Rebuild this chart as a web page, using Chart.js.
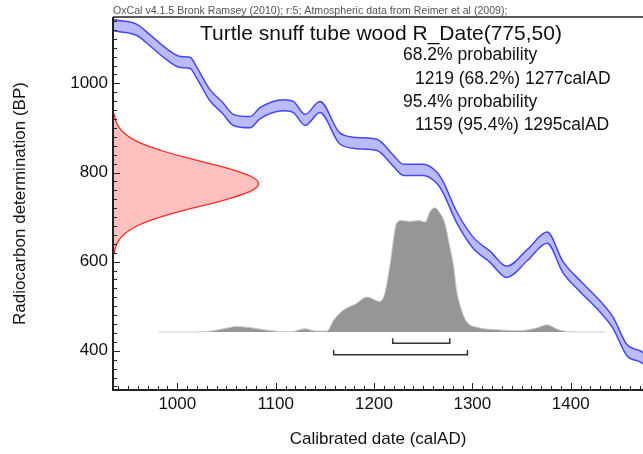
<!DOCTYPE html>
<html>
<head>
<meta charset="utf-8">
<script src="https://cdn.jsdelivr.net/npm/chart.js@4.4.1/dist/chart.umd.min.js"></script>
<style>
  html, body { margin: 0; padding: 0; background: #fff; }
</style>
</head>
<body>
<canvas id="chart" width="643" height="454"></canvas>
<script>
// calibration curve (IntCal09), centre line
const calYear = [928, 935, 959, 972, 990, 1003, 1013, 1020, 1033, 1046, 1057, 1074, 1084, 1108, 1118, 1130, 1145, 1165, 1183, 1203, 1219, 1230, 1250, 1264, 1270, 1284, 1301, 1318, 1335, 1356, 1376, 1392, 1410, 1430, 1443, 1457, 1471, 1485];
const calBP = [1137, 1131, 1120, 1097, 1064, 1048, 1046, 1023, 974, 945, 918, 913, 933, 951, 947, 918, 947, 877, 866, 862, 828, 806, 806, 788, 768, 700, 642, 611, 577, 615, 654, 588, 544, 499, 463, 402, 387, 365];
const calSigma = 12.5;

// R_Date(775,50) shown on the BP axis
const rDateBP = [620, 640, 660, 680, 700, 720, 740, 760, 775, 790, 810, 830, 850, 870, 890, 910, 930];
const rDateProb = [0.008, 0.026, 0.071, 0.164, 0.325, 0.546, 0.783, 0.956, 1, 0.956, 0.783, 0.546, 0.325, 0.164, 0.071, 0.026, 0.008];

// calibrated distribution (relative probability)
const postYear = [981, 1013, 1036, 1049, 1060, 1074, 1094, 1115, 1130, 1141, 1152, 1159, 1169, 1181, 1193, 1206, 1211, 1216, 1223, 1228, 1237, 1245, 1252, 1257, 1262, 1267, 1272, 1277, 1281, 1284, 1289, 1294, 1304, 1325, 1349, 1365, 1376, 1386, 1393, 1410, 1435];
const postProb = [0, 0, 0.01, 0.03, 0.045, 0.036, 0.012, 0.002, 0.027, 0.008, 0.008, 0.097, 0.177, 0.225, 0.282, 0.246, 0.314, 0.528, 0.877, 0.898, 0.89, 0.898, 0.885, 0.97, 1, 0.957, 0.877, 0.689, 0.528, 0.338, 0.177, 0.085, 0.04, 0.019, 0.012, 0.032, 0.059, 0.024, 0.008, 0, 0];

// ranges: 68.2% and 95.4%
const rangeFrom = [1219, 1159];
const rangeTo = [1277, 1295];
const rangeBP = [417, 391];

const xTicks = [1000, 1100, 1200, 1300, 1400];
const yTicks = [400, 600, 800, 1000];

const xMin = 934.6, xMax = 1473.5;
const yMin = 312, yMax = 1149;
const FONT = "'Liberation Sans', Arial, Helvetica, sans-serif";

const rDateWidth = 148;   // height of the R_Date curve in years
const postBase = 442, postHeight = 279;

const calUpper = calYear.map((yr, i) => ({ x: yr, y: calBP[i] + calSigma }));
const calLower = calYear.map((yr, i) => ({ x: yr, y: calBP[i] - calSigma }));

let rDatePts = [{ x: xMin, y: rDateBP[0] - 5 }];
rDateBP.forEach((bp, i) => rDatePts.push({ x: xMin + rDateProb[i] * rDateWidth, y: bp }));
rDatePts.push({ x: xMin, y: rDateBP[rDateBP.length - 1] + 5 });

const postPts = postYear.map((yr, i) => ({ x: yr, y: postBase + postProb[i] * postHeight }));

function bracket(i) {
    return [
        { x: rangeFrom[i], y: rangeBP[i] + 11 },
        { x: rangeFrom[i], y: rangeBP[i] },
        { x: rangeTo[i], y: rangeBP[i] },
        { x: rangeTo[i], y: rangeBP[i] + 11 }
    ];
}

const oxcalFrame = {
    id: 'oxcalFrame',
    afterDraw(chart) {
        const ctx = chart.ctx;
        const a = chart.chartArea;
        const x = chart.scales.x, y = chart.scales.y;
        ctx.save();
        ctx.strokeStyle = '#222';
        ctx.lineWidth = 1;
        for (let v = 940; v <= xMax; v += 10) {
            const px = Math.round(x.getPixelForValue(v)) + 0.5;
            const len = v % 100 === 0 ? 7 : 4;
            ctx.beginPath();
            ctx.moveTo(px, a.bottom);
            ctx.lineTo(px, a.bottom - len);
            ctx.stroke();
        }
        for (let v = 320; v <= yMax; v += 20) {
            const py = Math.round(y.getPixelForValue(v)) + 0.5;
            const len = v % 200 === 0 ? 7 : 4;
            ctx.beginPath();
            ctx.moveTo(a.left, py);
            ctx.lineTo(a.left + len, py);
            ctx.stroke();
        }
        ctx.lineWidth = 2;
        ctx.beginPath();
        ctx.moveTo(a.left, a.top);
        ctx.lineTo(a.left, a.bottom);
        ctx.lineTo(a.right, a.bottom);
        ctx.stroke();
        ctx.lineWidth = 1.5;
        ctx.beginPath();
        ctx.moveTo(a.left, a.top);
        ctx.lineTo(a.right, a.top);
        ctx.stroke();

        ctx.fillStyle = '#555';
        ctx.font = '10.6px ' + FONT;
        ctx.textBaseline = 'alphabetic';
        ctx.fillText('OxCal v4.1.5 Bronk Ramsey (2010); r:5; Atmospheric data from Reimer et al (2009);', 113, 14);

        ctx.fillStyle = '#111';
        ctx.font = '21px ' + FONT;
        ctx.fillText('Turtle snuff tube wood R_Date(775,50)', 200, 40);
        ctx.font = '17.5px ' + FONT;
        ctx.fillText('68.2% probability', 403, 60);
        ctx.fillText('1219 (68.2%) 1277calAD', 415, 83.5);
        ctx.fillText('95.4% probability', 403, 106.7);
        ctx.fillText('1159 (95.4%) 1295calAD', 415, 130);
        ctx.restore();
    }
};

new Chart(document.getElementById('chart'), {
    type: 'scatter',
    data: {
        datasets: [
            {
                data: calUpper, showLine: true, pointRadius: 0, fill: false,
                borderColor: 'rgb(70,70,250)', borderWidth: 1.5, cubicInterpolationMode: 'monotone'
            },
            {
                data: calLower, showLine: true, pointRadius: 0, fill: 0,
                borderColor: 'rgb(70,70,250)', borderWidth: 1.5, cubicInterpolationMode: 'monotone',
                backgroundColor: 'rgb(186,186,255)'
            },
            {
                data: rDatePts, showLine: true, pointRadius: 0, fill: 'shape', tension: 0.4,
                borderColor: 'rgb(255,40,40)', borderWidth: 1.3, backgroundColor: 'rgb(255,192,192)'
            },
            {
                data: postPts, showLine: true, pointRadius: 0, fill: { value: postBase },
                cubicInterpolationMode: 'monotone',
                borderColor: 'rgb(205,205,205)', borderWidth: 1, backgroundColor: 'rgb(150,150,150)'
            },
            {
                data: bracket(0), showLine: true, pointRadius: 0, fill: false,
                borderColor: '#333', borderWidth: 1.5
            },
            {
                data: bracket(1), showLine: true, pointRadius: 0, fill: false,
                borderColor: '#333', borderWidth: 1.5
            }
        ]
    },
    options: {
        responsive: false,
        animation: false,
        layout: { padding: { top: 17, right: 0, bottom: 0, left: 0 } },
        plugins: { legend: { display: false }, tooltip: { enabled: false } },
        scales: {
            x: {
                type: 'linear', min: xMin, max: xMax,
                grid: { display: false, drawTicks: false }, border: { display: false },
                afterBuildTicks: s => { s.ticks = xTicks.map(v => ({ value: v })); },
                ticks: {
                    padding: 4, color: '#111', maxRotation: 0, autoSkip: false,
                    font: { family: FONT, size: 17 }, callback: v => String(v)
                },
                title: {
                    display: true, text: 'Calibrated date (calAD)', color: '#111',
                    font: { family: FONT, size: 17 }, padding: { top: 0, bottom: 4 }
                },
                afterFit: s => { s.height = 64; }
            },
            y: {
                type: 'linear', min: yMin, max: yMax,
                grid: { display: false, drawTicks: false }, border: { display: false },
                afterBuildTicks: s => { s.ticks = yTicks.map(v => ({ value: v })); },
                ticks: {
                    padding: 5, color: '#111',
                    font: { family: FONT, size: 17 }, callback: v => String(v)
                },
                title: {
                    display: true, text: 'Radiocarbon determination (BP)', color: '#111',
                    font: { family: FONT, size: 17 }, padding: { top: 10, bottom: 0 }
                },
                afterFit: s => { s.width = 113; }
            }
        }
    },
    plugins: [oxcalFrame]
});
</script>
</body>
</html>
